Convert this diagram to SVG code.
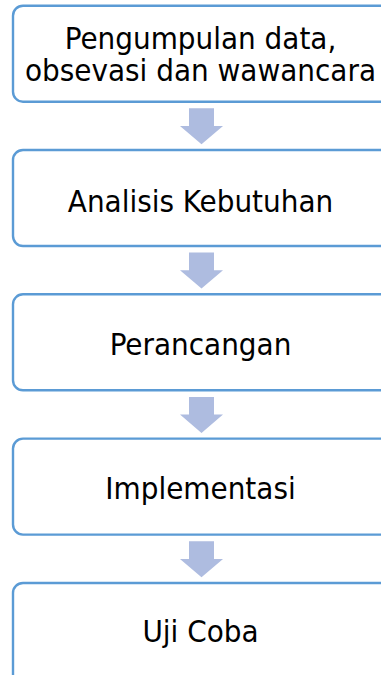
<svg xmlns="http://www.w3.org/2000/svg" width="381" height="675" viewBox="0 0 381 675">
<style>
.box{fill:#ffffff;stroke:#5B9BD5;stroke-width:2.4}
.lbl{font-family:"DejaVu Sans Condensed","DejaVu Sans",sans-serif;font-stretch:condensed;font-size:31px;fill:#000;text-anchor:middle}
.arr{fill:#AEBCE0}
</style>
<rect width="381" height="675" fill="#ffffff"/>
<g id="connectors">
<path class="arr" d="M189,108.3 H214 V126 H223 L201.5,144.3 L180,126 H189 Z"/>
<path class="arr" d="M189,252.6 H214 V270.3 H223 L201.5,288.6 L180,270.3 H189 Z"/>
<path class="arr" d="M189,396.9 H214 V414.6 H223 L201.5,432.9 L180,414.6 H189 Z"/>
<path class="arr" d="M189,541.2 H214 V558.9 H223 L201.5,577.2 L180,558.9 H189 Z"/>
</g>
<g id="n1">
<rect class="box" x="13" y="5.7" width="380" height="96" rx="10"/>
<text class="lbl" x="200.5" y="48.5">Pengumpulan data,</text>
<text class="lbl" x="200.5" y="81">obsevasi dan wawancara</text>
</g>
<g id="n2">
<rect class="box" x="13" y="150" width="380" height="96" rx="10"/>
<text class="lbl" x="200.5" y="211.5">Analisis Kebutuhan</text>
</g>
<g id="n3">
<rect class="box" x="13" y="294.3" width="380" height="96" rx="10"/>
<text class="lbl" x="200.5" y="355">Perancangan</text>
</g>
<g id="n4">
<rect class="box" x="13" y="438.6" width="380" height="96" rx="10"/>
<text class="lbl" x="200.5" y="498.5">Implementasi</text>
</g>
<g id="n5">
<rect class="box" x="13" y="583" width="380" height="110" rx="10"/>
<text class="lbl" x="200.5" y="642">Uji Coba</text>
</g>
</svg>
